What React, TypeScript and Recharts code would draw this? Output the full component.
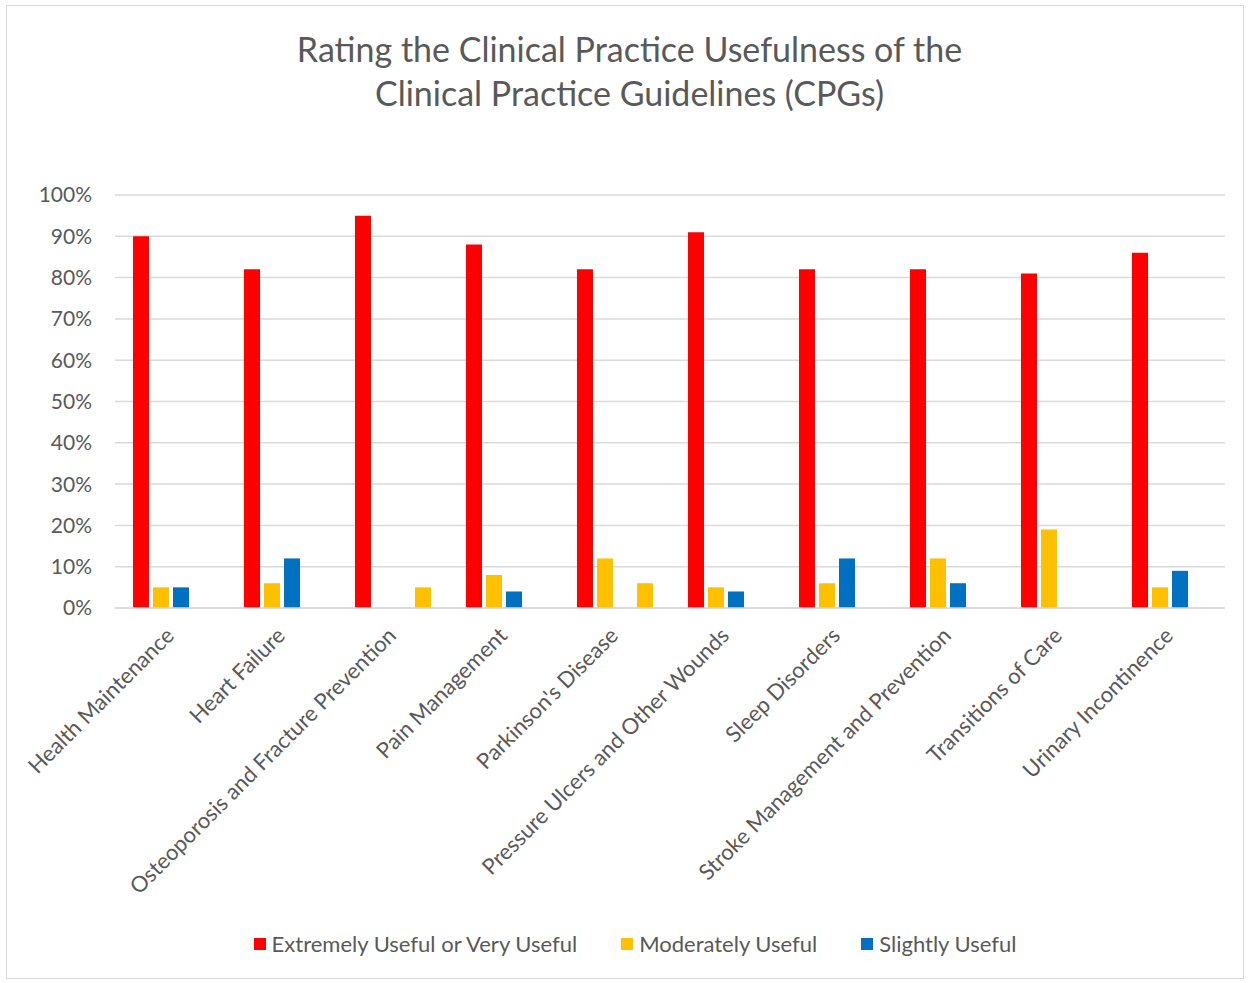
import React from "react";
import { BarChart, Bar, XAxis, YAxis, CartesianGrid, Legend } from "recharts";

const categories = [
  "Health Maintenance",
  "Heart Failure",
  "Osteoporosis and Fracture Prevention",
  "Pain Management",
  "Parkinson's Disease",
  "Pressure Ulcers and Other Wounds",
  "Sleep Disorders",
  "Stroke Management and Prevention",
  "Transitions of Care",
  "Urinary Incontinence",
];
const extremelyUseful = [90, 82, 95, 88, 82, 91, 82, 82, 81, 86];
const moderatelyUseful = [5, 6, 0, 8, 12, 5, 6, 12, 19, 5];
const slightlyUseful = [5, 12, 0, 4, 0, 4, 12, 6, 0, 9];
const fourthSeries = [0, 0, 5, 0, 6, 0, 0, 0, 0, 0];
const yTicks = [0, 10, 20, 30, 40, 50, 60, 70, 80, 90, 100];

const seriesInfo = [
  { key: "extreme", name: "Extremely Useful or Very Useful", color: "#FF0000" },
  { key: "moderate", name: "Moderately Useful", color: "#FFC000" },
  { key: "slight", name: "Slightly Useful", color: "#0070C0" },
];

const data = categories.map((c, i) => ({
  name: c,
  extreme: extremelyUseful[i],
  moderate: moderatelyUseful[i],
  slight: slightlyUseful[i],
  fourth: fourthSeries[i],
}));

const FONT = "Lato, 'Open Sans', sans-serif";
const TEXT = "#595959";

const XTick = (props: any) => {
  const { x, y, payload } = props;
  return (
    <g transform={`translate(${x + 5},${y + 21}) rotate(-45)`}>
      <text x={0} y={0} textAnchor="end" fill={TEXT} fontSize={22} fontFamily={FONT}>
        {payload.value}
      </text>
    </g>
  );
};

const LegendContent = () => (
  <div style={{ display: "flex", justifyContent: "center", fontFamily: FONT, fontSize: 22, color: TEXT }}>
    {seriesInfo.map((s, i) => (
      <div key={s.key} style={{ display: "flex", alignItems: "center", marginLeft: i === 0 ? 0 : 44 }}>
        <span style={{ width: 12, height: 12, background: s.color, display: "inline-block", marginRight: 6 }} />
        <span>{s.name}</span>
      </div>
    ))}
  </div>
);

export default function App() {
  return (
    <div style={{ position: "absolute", left: 0, top: 0, width: 1249, height: 983, background: "#fff" }}>
      <div
        style={{
          position: "absolute",
          left: 6,
          top: 5,
          width: 1238,
          height: 974,
          border: "1px solid #D9D9D9",
          boxSizing: "border-box",
        }}
      />
      <div
        style={{
          position: "absolute",
          left: 0,
          top: 27,
          width: 1259,
          textAlign: "center",
          fontFamily: FONT,
          fontSize: 34,
          color: TEXT,
          lineHeight: "44px",
        }}
      >
        Rating the Clinical Practice Usefulness of the
        <br />
        Clinical Practice Guidelines (CPGs)
      </div>
      <div style={{ position: "absolute", left: 0, top: 0 }}>
        <BarChart
          width={1249}
          height={983}
          data={data}
          margin={{ top: 195, right: 24, left: 20, bottom: 20 }}
          barSize={16}
          barGap={4}
        >
          <CartesianGrid vertical={false} stroke="#D9D9D9" strokeWidth={1.5} />
          <XAxis
            dataKey="name"
            interval={0}
            tick={<XTick />}
            tickLine={false}
            axisLine={{ stroke: "#D9D9D9", strokeWidth: 1.5 }}
            height={328}
          />
          <YAxis
            domain={[0, 100]}
            ticks={yTicks}
            tickFormatter={(v: number) => `${v}%`}
            axisLine={false}
            tickLine={false}
            width={95}
            tick={{ fill: TEXT, fontSize: 21, fontFamily: FONT, dx: -15 }}
          />
          <Legend
            content={<LegendContent />}
            wrapperStyle={{ position: "absolute", top: 930, left: 0, width: 1270 }}
          />
          <Bar dataKey="extreme" name={seriesInfo[0].name} fill="#FF0000" isAnimationActive={false} />
          <Bar dataKey="moderate" name={seriesInfo[1].name} fill="#FFC000" isAnimationActive={false} />
          <Bar dataKey="slight" name={seriesInfo[2].name} fill="#0070C0" isAnimationActive={false} />
          <Bar dataKey="fourth" name="Not Useful" fill="#FFC000" legendType="none" isAnimationActive={false} />
        </BarChart>
      </div>
    </div>
  );
}
